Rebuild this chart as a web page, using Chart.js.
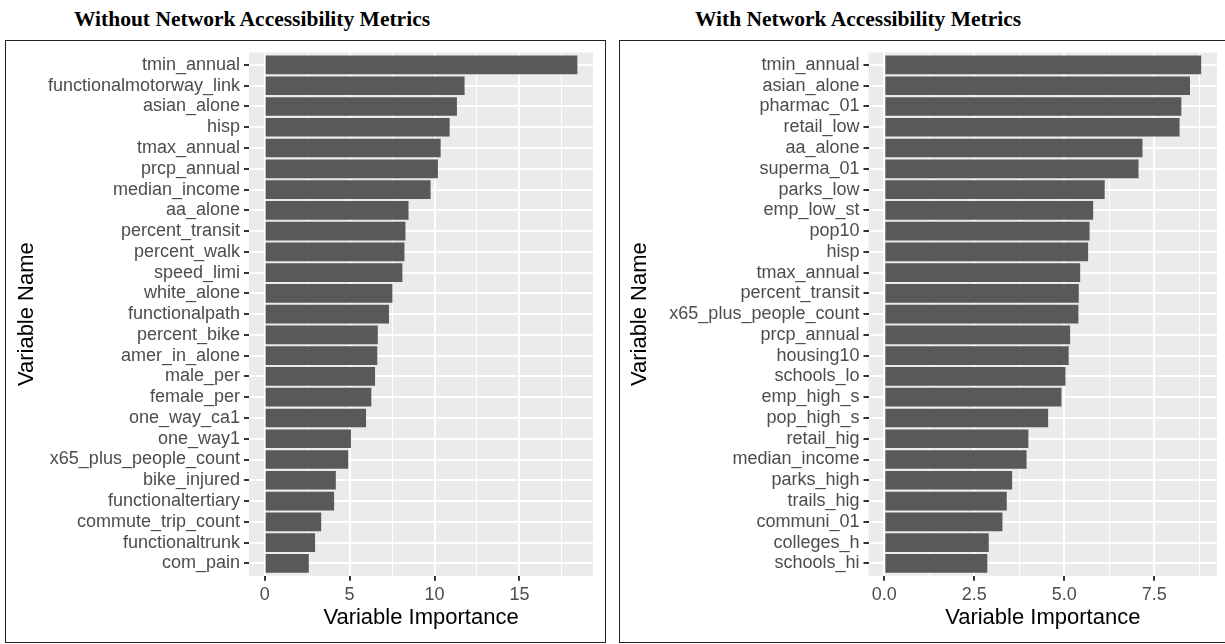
<!DOCTYPE html>
<html><head><meta charset="utf-8">
<script src="https://cdn.jsdelivr.net/npm/chart.js@4/dist/chart.umd.min.js"></script>
<style>
html,body{margin:0;padding:0;background:#fff;width:1225px;height:644px;overflow:hidden;position:relative;}
.title{position:absolute;top:9px;font:bold 21.5px "Liberation Serif","Times New Roman",serif;line-height:1;white-space:nowrap;transform:translateX(-50%);color:#000;}
.panel{position:absolute;border:1.5px solid #222;box-sizing:border-box;}
canvas{position:absolute;top:0;}
</style></head><body>
<div class="title" style="left:252px">Without Network Accessibility Metrics</div>
<div class="title" style="left:858px">With Network Accessibility Metrics</div>
<div class="panel" style="left:5px;top:40px;width:601px;height:603px"></div>
<div class="panel" style="left:619px;top:40px;width:608px;height:603px"></div>
<canvas id="c1" width="612" height="644" style="left:0"></canvas>
<canvas id="c2" width="613" height="644" style="left:612px"></canvas>
<script>
const leftCategories = ['tmin_annual','functionalmotorway_link','asian_alone','hisp','tmax_annual','prcp_annual','median_income','aa_alone','percent_transit','percent_walk','speed_limi','white_alone','functionalpath','percent_bike','amer_in_alone','male_per','female_per','one_way_ca1','one_way1','x65_plus_people_count','bike_injured','functionaltertiary','commute_trip_count','functionaltrunk','com_pain'];
const leftValues = [18.41,11.77,11.32,10.89,10.36,10.20,9.77,8.47,8.29,8.23,8.11,7.52,7.32,6.66,6.63,6.50,6.28,5.97,5.08,4.92,4.19,4.09,3.33,2.97,2.60];
const leftMajorTicks = [0,5,10,15];
const leftTickLabels = ['0','5','10','15'];
const leftMinorTicks = [2.5,7.5,12.5,17.5];

const rightCategories = ['tmin_annual','asian_alone','pharmac_01','retail_low','aa_alone','superma_01','parks_low','emp_low_st','pop10','hisp','tmax_annual','percent_transit','x65_plus_people_count','prcp_annual','housing10','schools_lo','emp_high_s','pop_high_s','retail_hig','median_income','parks_high','trails_hig','communi_01','colleges_h','schools_hi'];
const rightValues = [8.80,8.49,8.25,8.20,7.17,7.06,6.12,5.80,5.70,5.66,5.44,5.40,5.39,5.16,5.12,5.03,4.92,4.55,4.00,3.95,3.55,3.40,3.28,2.90,2.86];
const rightMajorTicks = [0,2.5,5,7.5];
const rightTickLabels = ['0.0','2.5','5.0','7.5'];
const rightMinorTicks = [1.25,3.75,6.25,8.75];

const FAMILY = '"Liberation Sans", Arial, sans-serif';

const bgPlugin = {
  id: 'panelBg',
  beforeDraw(chart) {
    const a = chart.chartArea, ctx = chart.ctx;
    ctx.save();
    ctx.fillStyle = '#EBEBEB';
    ctx.fillRect(a.left, a.top, a.right - a.left, a.bottom - a.top);
    ctx.restore();
  }
};

function makeChart(id, cats, vals, majors, majorLabels, minors, geom) {
  const maxV = Math.max(...vals);
  const allTicks = majors.concat(minors).sort((a, b) => a - b);
  return new Chart(document.getElementById(id), {
    type: 'bar',
    data: {
      datasets: [{
        data: vals.map((v, i) => ({x: v, y: i})),
        backgroundColor: '#595959',
        borderWidth: 0,
        categoryPercentage: 1,
        barPercentage: 0.9
      }]
    },
    options: {
      indexAxis: 'y',
      responsive: false,
      animation: false,
      layout: {padding: {left: 0, right: geom.padRight, top: 52.5, bottom: 0}},
      plugins: {legend: {display: false}, tooltip: {enabled: false}},
      scales: {
        x: {
          type: 'linear', position: 'bottom', bounds: 'data', offset: false,
          min: -0.05 * maxV, max: 1.05 * maxV,
          afterBuildTicks: s => { s.ticks = allTicks.map(v => ({value: v})); },
          afterFit: s => { s.height = 68.2; },
          ticks: {
            autoSkip: false, maxRotation: 0, padding: 3, color: '#4D4D4D',
            font: {family: FAMILY, size: 18},
            callback: v => { const k = majors.indexOf(v); return k >= 0 ? majorLabels[k] : ''; }
          },
          grid: {
            offset: false,
            color: '#FFFFFF',
            lineWidth: c => (c.tick && majors.includes(c.tick.value)) ? 2 : 1,
            tickLength: 5, tickWidth: 2,
            tickColor: c => (c.tick && majors.includes(c.tick.value)) ? '#333333' : 'rgba(0,0,0,0)'
          },
          border: {display: false},
          title: {display: true, text: 'Variable Importance', color: '#000',
                  font: {family: FAMILY, size: 22}, padding: {top: 0, bottom: 12.8}}
        },
        y: {
          type: 'linear', position: 'left', reverse: true, bounds: 'data', offset: false,
          min: -0.6, max: cats.length - 1 + 0.6,
          afterBuildTicks: s => { s.ticks = cats.map((c, i) => ({value: i})); },
          afterFit: s => { s.width = geom.yWidth; },
          ticks: {
            autoSkip: false, padding: 4, color: '#4D4D4D',
            font: {family: FAMILY, size: 18},
            callback: v => cats[v]
          },
          grid: {offset: false, color: '#FFFFFF', lineWidth: 2, tickLength: 5, tickWidth: 2, tickColor: '#333333'},
          border: {display: false},
          title: {display: true, text: 'Variable Name', color: '#000',
                  font: {family: FAMILY, size: 22}, padding: {top: geom.yTitlePad, bottom: 0}}
        }
      }
    },
    plugins: [bgPlugin]
  });
}

makeChart('c1', leftCategories, leftValues, leftMajorTicks, leftTickLabels, leftMinorTicks,
          {yWidth: 249, padRight: 19, yTitlePad: 13.8});
makeChart('c2', rightCategories, rightValues, rightMajorTicks, rightTickLabels, rightMinorTicks,
          {yWidth: 256.5, padRight: 8, yTitlePad: 14.8});
</script>
</body></html>
